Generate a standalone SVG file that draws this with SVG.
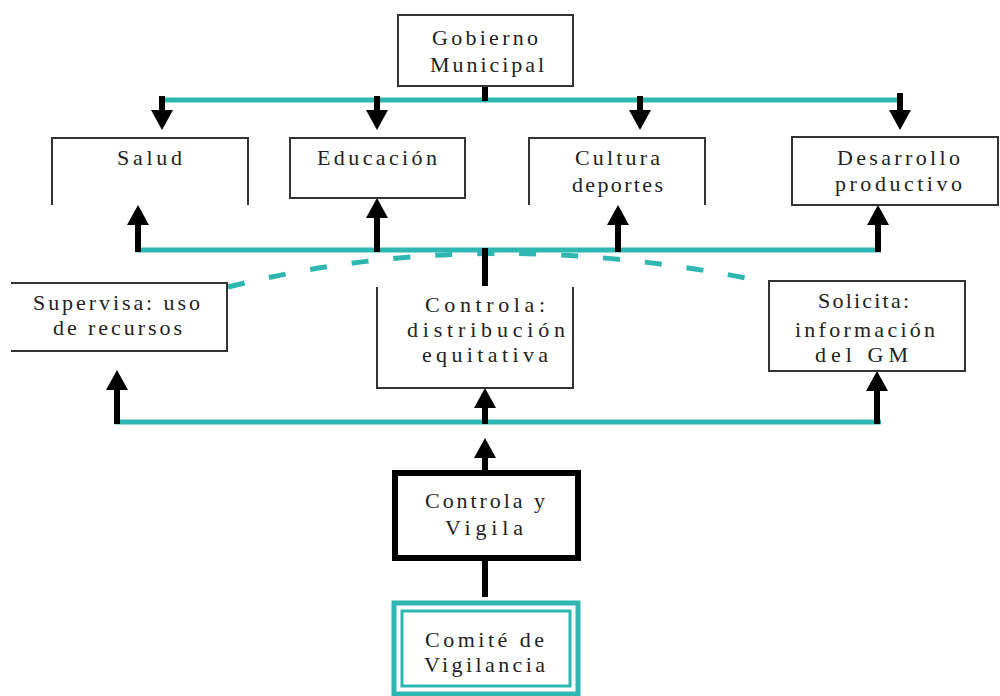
<svg xmlns="http://www.w3.org/2000/svg" width="1000" height="696" viewBox="0 0 1000 696">
<style>
.bx{fill:#fff;stroke:#333;stroke-width:2}
.op{fill:none;stroke:#333;stroke-width:2}
.t{font-family:"Liberation Serif","Times New Roman",serif;font-size:22px;fill:#222;text-anchor:start}
.teal{stroke:#2db7b0;stroke-width:5;fill:none}
.ar{stroke:#000;stroke-width:6;fill:none}
.ah{stroke:#000;stroke-width:6;fill:none;marker-end:url(#h)}
</style>
<defs>
<marker id="h" markerUnits="userSpaceOnUse" viewBox="0 0 20 22" refX="8" refY="11" markerWidth="20" markerHeight="22" orient="auto">
<path d="M0,0 L20,11 L0,22 z" fill="#000"/>
</marker>
</defs>
<g id="connectors">
<line class="teal" x1="162" y1="100" x2="902" y2="100"/>
<line class="teal" x1="136" y1="250" x2="881" y2="250"/>
<line class="teal" x1="115" y1="422" x2="881" y2="422"/>
<path d="M228,287 Q485,222 770,283" stroke="#2db7b0" stroke-width="5" fill="none" stroke-dasharray="17 25"/>
<line class="ar" x1="485" y1="86" x2="485" y2="101"/>
<line class="ah" x1="162" y1="96" x2="162" y2="118"/>
<line class="ah" x1="377" y1="96" x2="377" y2="118"/>
<line class="ah" x1="640" y1="96" x2="640" y2="118"/>
<line class="ah" x1="900" y1="93" x2="900" y2="118"/>
<line class="ah" x1="138" y1="252" x2="138" y2="217"/>
<line class="ah" x1="377" y1="252" x2="377" y2="210"/>
<line class="ah" x1="618" y1="252" x2="618" y2="217"/>
<line class="ah" x1="878" y1="252" x2="878" y2="217"/>
<line class="ar" x1="485" y1="248" x2="485" y2="286"/>
<line class="ah" x1="117" y1="424" x2="117" y2="382"/>
<line class="ah" x1="485" y1="424" x2="485" y2="400"/>
<line class="ah" x1="877" y1="424" x2="877" y2="383"/>
<line class="ah" x1="485" y1="473" x2="485" y2="450"/>
<line class="ar" x1="485" y1="558" x2="485" y2="597"/>
</g>
<g id="gobierno">
<rect class="bx" x="398" y="15" width="175" height="71"/>
<text class="t" x="432" y="45" textLength="106" lengthAdjust="spacing">Gobierno</text>
<text class="t" x="430" y="72" textLength="114" lengthAdjust="spacing">Municipal</text>
</g>
<g id="salud">
<path class="op" d="M52,205 V138 H248 V205"/>
<text class="t" x="117" y="165" textLength="65" lengthAdjust="spacing">Salud</text>
</g>
<g id="educacion">
<rect class="bx" x="290" y="138" width="175" height="60"/>
<text class="t" x="317" y="165" textLength="120" lengthAdjust="spacing">Educación</text>
</g>
<g id="cultura">
<path class="op" d="M529,205 V138 H705 V205"/>
<text class="t" x="575" y="165" textLength="85" lengthAdjust="spacing">Cultura</text>
<text class="t" x="572" y="192" textLength="91" lengthAdjust="spacing">deportes</text>
</g>
<g id="desarrollo">
<rect class="bx" x="792" y="137" width="206" height="68"/>
<text class="t" x="837" y="165" textLength="123" lengthAdjust="spacing">Desarrollo</text>
<text class="t" x="835" y="191" textLength="127" lengthAdjust="spacing">productivo</text>
</g>
<g id="supervisa">
<path class="op" d="M11,283 H227 V351 H11"/>
<text class="t" x="33" y="310" textLength="167" lengthAdjust="spacing">Supervisa: uso</text>
<text class="t" x="53" y="335" textLength="129" lengthAdjust="spacing">de recursos</text>
</g>
<g id="controla">
<path class="op" d="M377,287 V388 H573 V287"/>
<text class="t" x="425" y="312" textLength="120" lengthAdjust="spacing">Controla:</text>
<text class="t" x="407" y="337" textLength="158" lengthAdjust="spacing">distribución</text>
<text class="t" x="422" y="362" textLength="126" lengthAdjust="spacing">equitativa</text>
</g>
<g id="solicita">
<rect class="bx" x="769" y="281" width="196" height="90"/>
<text class="t" x="818" y="308" textLength="91" lengthAdjust="spacing">Solicita:</text>
<text class="t" x="795" y="337" textLength="140" lengthAdjust="spacing">información</text>
<text class="t" x="815" y="362" textLength="93" lengthAdjust="spacing">del GM</text>
</g>
<g id="controla-vigila">
<rect x="395" y="473" width="183" height="85" fill="#fff" stroke="#000" stroke-width="6"/>
<text class="t" x="425" y="508" textLength="120" lengthAdjust="spacing">Controla y</text>
<text class="t" x="445" y="535" textLength="78" lengthAdjust="spacing">Vigila</text>
</g>
<g id="comite">
<rect x="394" y="603" width="184" height="91" fill="#fff" stroke="#2db7b0" stroke-width="5"/>
<rect x="402" y="611" width="168" height="75" fill="#fff" stroke="#2db7b0" stroke-width="3"/>
<text class="t" x="425" y="647" textLength="119" lengthAdjust="spacing">Comité de</text>
<text class="t" x="424" y="672" textLength="121" lengthAdjust="spacing">Vigilancia</text>
</g>
</svg>
